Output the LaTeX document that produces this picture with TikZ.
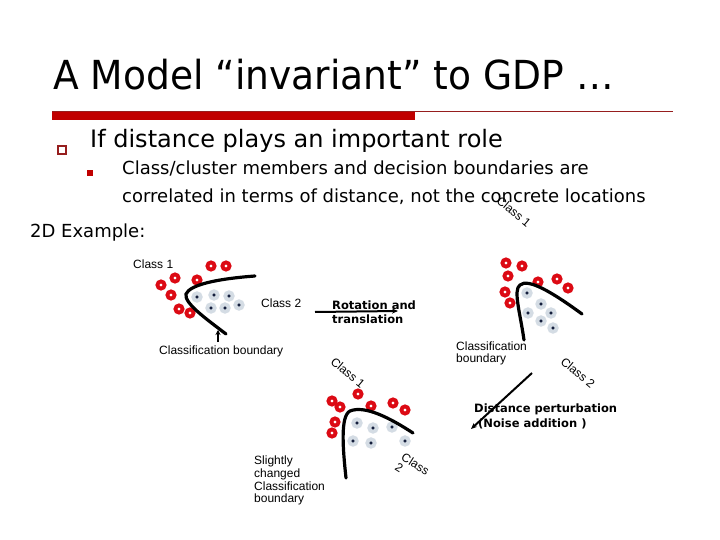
\documentclass[tikz,border=0pt]{standalone}
\usepackage{fontspec}
\setmainfont{DejaVu Sans}
\newfontfamily\arialf{Liberation Sans}
\usetikzlibrary{arrows.meta}
\definecolor{ptred}{RGB}{220,10,20}
\definecolor{ptgrey}{RGB}{212,220,228}
\definecolor{ptnavy}{RGB}{20,30,60}
\definecolor{barred}{RGB}{192,0,0}
\definecolor{linered}{RGB}{150,30,30}
\begin{document}
\begin{tikzpicture}[x=1pt,y=-1pt,
  redpt/.style={circle,draw=ptred,line width=3.8pt,fill=white,inner sep=0pt,minimum size=7.2pt},
  greypt/.style={circle,draw=ptgrey,line width=3.8pt,fill=ptnavy,inner sep=0pt,minimum size=7.4pt},
  bnd/.style={line width=3.2pt,line cap=round},
  lbl/.style={font=\arialf\fontsize{12}{12.7}\selectfont,inner sep=0pt,anchor=base west},
  rlbl/.style={font=\arialf\fontsize{12}{12}\selectfont,inner sep=0pt,align=left},
  blbl/.style={font=\bfseries\fontsize{11.5}{14}\selectfont,inner sep=0pt,anchor=base west},
  arr/.style={line width=2pt,-{Stealth[length=6pt,width=5pt]}}]
\useasboundingbox (0,0) rectangle (720,540);
\fill[white] (0,0) rectangle (720,540);
% title
\node[anchor=base west,inner sep=0pt,font=\fontsize{40}{44}\selectfont,xscale=0.94] (title) at (53,90) {A Model “invariant” to GDP …};
\draw[linered,line width=0.8pt] (52,111.5) -- (673,111.5);
\fill[barred] (52,112) rectangle (415,120);
% bullets
\node[draw=linered,line width=1.2pt,minimum size=8pt,inner sep=0pt] (b1) at (62,150) {};
\node[anchor=base west,inner sep=0pt,font=\fontsize{24}{28}\selectfont] (t1) at (90,148) {If distance plays an important role};
\node[fill=barred,minimum size=6pt,inner sep=0pt] (b2) at (90,173) {};
\node[anchor=base west,inner sep=0pt,font=\fontsize{18}{20}\selectfont] (t2) at (122,175) {Class/cluster members and decision boundaries are};
\node[anchor=base west,inner sep=0pt,font=\fontsize{18}{20}\selectfont] (t3) at (122,203) {correlated in terms of distance, not the concrete locations};
\node[anchor=base west,inner sep=0pt,font=\fontsize{18}{20}\selectfont] (ex) at (30,237) {2D Example:};
% rotated labels
\node[rlbl,rotate=-40] (c1a) at (514,212) {Class 1};
\node[rlbl,rotate=-40] (c1b) at (348,373) {Class 1};
\node[rlbl,rotate=-40] (c2a) at (578,373) {Class 2};
\node[rlbl,rotate=-32,anchor=north west] (c2b) at (405,452) {Class\\2};
% ---------- diagram 1
\node[lbl] (cl1) at (133,268) {Class 1};
\node[lbl] (cl2) at (261,307) {Class 2};
\node[lbl] (cb1) at (159,354) {Classification boundary};
\foreach \n/\x/\y in {1/211/266,2/226/266,3/175/278,4/197/280,5/161/285,6/171/295,7/179/309,8/190/313}
  \node[redpt] (ra\n) at (\x,\y) {};
\foreach \n/\x/\y in {1/197/297,2/214/295,3/229/296,4/211/308,5/225/308,6/239/305}
  \node[greypt] (ga\n) at (\x,\y) {};
\draw[bnd] (255,276) .. controls (215,279) and (190,285) .. (186,294) .. controls (184,303) and (205,318) .. (226,334);
\coordinate (ba1) at (218,342);
\coordinate (ba2) at (218,330);
\draw[line width=1.6pt,-{Stealth[length=5pt,width=5pt]}] (ba1) -- (ba2);
% rotation arrow
\coordinate (rt1) at (315,312);
\coordinate (rt2) at (398,311);
\draw[arr] (rt1) -- (rt2);
\node[blbl] (rot1) at (332,309) {Rotation and};
\node[blbl] (rot2) at (332,323) {translation};
% ---------- diagram 2
\foreach \n/\x/\y in {1/506/263,2/522/266,3/508/276,4/505/292,5/510/303,6/538/282,7/557/279,8/568/288}
  \node[redpt] (rb\n) at (\x,\y) {};
\foreach \n/\x/\y in {1/527/293,2/541/304,3/551/313,4/528/313,5/541/321,6/553/328}
  \node[greypt] (gb\n) at (\x,\y) {};
\draw[bnd] (524,340) .. controls (520,312) and (513,290) .. (520,285) .. controls (528,278) and (552,292) .. (582,314);
\node[lbl] (cb2a) at (456,350) {Classification};
\node[lbl] (cb2b) at (456,362) {boundary};
% perturbation arrow
\coordinate (pt1) at (532,373);
\coordinate (pt2) at (471,429);
\draw[arr] (pt1) -- (pt2);
\node[blbl] (pert1) at (474,412) {Distance perturbation};
\node[blbl] (pert2) at (478,427) {(Noise addition )};
% ---------- diagram 3
\foreach \n/\x/\y in {1/358/394,2/332/401,3/340/407,4/371/406,5/393/403,6/405/410,7/335/422,8/332/433}
  \node[redpt] (rc\n) at (\x,\y) {};
\foreach \n/\x/\y in {1/357/423,2/373/428,3/392/427,4/353/441,5/371/443,6/405/441}
  \node[greypt] (gc\n) at (\x,\y) {};
\draw[bnd] (346,478) .. controls (343,450) and (340,416) .. (350,411) .. controls (365,405) and (390,418) .. (413,433);
\node[lbl] (cb3a) at (254,464) {Slightly};
\node[lbl] (cb3b) at (254,477) {changed};
\node[lbl] (cb3c) at (254,490) {Classification};
\node[lbl] (cb3d) at (254,502) {boundary};
\end{tikzpicture}
\end{document}
